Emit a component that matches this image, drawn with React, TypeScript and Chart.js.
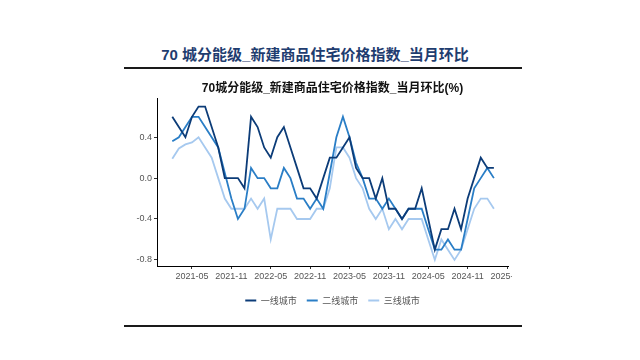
import { useEffect, useRef } from 'react';
import { Chart, registerables } from 'chart.js';

Chart.register(...registerables);

const months = [
  '2021-02', '2021-03', '2021-04', '2021-05', '2021-06', '2021-07', '2021-08', '2021-09', '2021-10', '2021-11', '2021-12',
  '2022-01', '2022-02', '2022-03', '2022-04', '2022-05', '2022-06', '2022-07', '2022-08', '2022-09', '2022-10', '2022-11', '2022-12',
  '2023-01', '2023-02', '2023-03', '2023-04', '2023-05', '2023-06', '2023-07', '2023-08', '2023-09', '2023-10', '2023-11', '2023-12',
  '2024-01', '2024-02', '2024-03', '2024-04', '2024-05', '2024-06', '2024-07', '2024-08', '2024-09', '2024-10', '2024-11', '2024-12',
  '2025-01', '2025-02', '2025-03',
];

const tier1 = [
  0.6, 0.5, 0.4, 0.6, 0.7, 0.7, 0.5, 0.3, 0.0, 0.0,
  0.0, -0.1, 0.6, 0.5, 0.3, 0.2, 0.4, 0.5, 0.3, 0.1,
  -0.1, -0.1, -0.2, 0.0, 0.2, 0.2, 0.3, 0.4, 0.1, 0.0,
  0.0, -0.2, 0.0, -0.3, -0.3, -0.4, -0.3, -0.3, -0.1, -0.4,
  -0.7, -0.5, -0.5, -0.3, -0.5, -0.2, 0.0, 0.2, 0.1, 0.1,
];

const tier2 = [
  0.36, 0.4, 0.5, 0.6, 0.6, 0.5, 0.4, 0.3, 0.05, -0.2,
  -0.4, -0.3, 0.1, 0.0, 0.0, -0.1, -0.1, 0.1, 0.0, -0.2,
  -0.2, -0.3, -0.2, -0.3, 0.05, 0.4, 0.6, 0.4, 0.15, 0.0,
  -0.2, -0.2, -0.3, -0.2, -0.3, -0.4, -0.3, -0.3, -0.3, -0.5,
  -0.7, -0.7, -0.6, -0.7, -0.7, -0.4, -0.1, 0.0, 0.1, 0.0,
];

const tier3 = [
  0.19, 0.29, 0.33, 0.35, 0.4, 0.3, 0.2, 0.0, -0.2, -0.3,
  -0.3, -0.3, -0.2, -0.3, -0.2, -0.6, -0.3, -0.3, -0.3, -0.4,
  -0.4, -0.4, -0.3, -0.3, -0.1, 0.3, 0.3, 0.2, 0.0, -0.1,
  -0.3, -0.4, -0.3, -0.5, -0.4, -0.5, -0.4, -0.4, -0.4, -0.6,
  -0.8, -0.6, -0.7, -0.8, -0.7, -0.5, -0.3, -0.2, -0.2, -0.3,
];

const seriesNames = ['一线城市', '二线城市', '三线城市'];
const seriesColors = ['#0c3c78', '#2a7ec6', '#a6c9ef'];
const xTickLabels = ['2021-05', '2021-11', '2022-05', '2022-11', '2023-05', '2023-11', '2024-05', '2024-11', '2025-05'];
const yTickValues = [-0.8, -0.4, 0.0, 0.4];

const headerTitle = '70 城分能级_新建商品住宅价格指数_当月环比';
const chartTitle = '70城分能级_新建商品住宅价格指数_当月环比(%)';

const toIdx = (s: string) => {
  const [y, m] = s.split('-').map(Number);
  return (y - 2021) * 12 + (m - 1);
};

const FONT = "'Liberation Sans', 'Noto Sans CJK SC', sans-serif";

export default function App() {
  const ref = useRef<HTMLCanvasElement | null>(null);

  useEffect(() => {
    if (!ref.current) return;
    const xTickValues = xTickLabels.map(toIdx);
    const series = [tier1, tier2, tier3];
    const chart = new Chart(ref.current, {
      type: 'line',
      data: {
        datasets: series.map((vals, si) => ({
          label: seriesNames[si],
          data: months.map((m, i) => ({ x: toIdx(m), y: vals[i] })),
          borderColor: seriesColors[si],
          backgroundColor: seriesColors[si],
          borderWidth: 1.8,
          pointRadius: 0,
          tension: 0,
          fill: false,
        })),
      },
      options: {
        responsive: false,
        maintainAspectRatio: false,
        animation: false,
        devicePixelRatio: 1,
        layout: { padding: { top: 81, left: 127, right: 4, bottom: 45 } },
        plugins: {
          tooltip: { enabled: false },
          title: {
            display: true,
            text: chartTitle,
            fullSize: false,
            color: '#111',
            font: { size: 12, weight: 'bold', family: FONT },
            padding: { top: 0, bottom: 3 },
          },
          legend: {
            position: 'bottom',
            fullSize: false,
            labels: {
              boxWidth: 11,
              boxHeight: 2,
              padding: 10,
              color: '#555',
              font: { size: 9, family: "'Noto Sans CJK SC', sans-serif" },
              generateLabels: (c: any) =>
                c.data.datasets.map((d: any, i: number) => ({
                  text: d.label,
                  fillStyle: d.borderColor,
                  strokeStyle: d.borderColor,
                  lineWidth: 0,
                  hidden: false,
                  datasetIndex: i,
                  fontColor: '#555',
                })),
            },
          },
        },
        scales: {
          x: {
            type: 'linear',
            min: -1.33,
            max: 52.15,
            afterBuildTicks: (axis: any) => {
              axis.ticks = xTickValues.map((v) => ({ value: v }));
            },
            afterFit: (s: any) => {
              s.paddingLeft = 0;
              s.paddingRight = 0;
              s.height = 20;
            },
            grid: { display: true, drawOnChartArea: false, drawTicks: true, tickLength: 3, color: '#333' },
            border: { display: true, color: '#000', width: 1 },
            ticks: {
              autoSkip: false,
              maxRotation: 0,
              padding: 2,
              color: '#555',
              font: { size: 9, family: FONT },
              callback: (v: any) => {
                const i = xTickValues.indexOf(Number(v));
                return i >= 0 ? xTickLabels[i] : '';
              },
            },
          },
          y: {
            type: 'linear',
            min: -0.86,
            max: 0.78,
            afterBuildTicks: (axis: any) => {
              axis.ticks = yTickValues.map((v) => ({ value: v }));
            },
            afterFit: (s: any) => {
              s.paddingTop = 0;
              s.paddingBottom = 0;
              s.width = 30;
            },
            grid: { display: true, drawOnChartArea: false, drawTicks: true, tickLength: 3, color: '#333' },
            border: { display: true, color: '#000', width: 1 },
            ticks: {
              padding: 2,
              color: '#555',
              font: { size: 9, family: FONT },
              callback: (v: any) => Number(v).toFixed(1),
            },
          },
        },
      },
    } as any);
    return () => chart.destroy();
  }, []);

  return (
    <div style={{ position: 'fixed', left: 0, top: 0, width: 640, height: 360, background: '#fff', overflow: 'hidden' }}>
      <div
        style={{
          position: 'absolute',
          left: 0,
          top: 45,
          width: 630,
          height: 20,
          lineHeight: '20px',
          textAlign: 'center',
          fontFamily: FONT,
          fontWeight: 'bold',
          fontSize: 15,
          color: '#1f3d70',
          whiteSpace: 'nowrap',
        }}
      >
        {headerTitle}
      </div>
      <div style={{ position: 'absolute', left: 124, top: 67, width: 398, height: 2, background: '#1a1a1a' }} />
      <canvas ref={ref} width={512} height={360} style={{ position: 'absolute', left: 0, top: 0, width: 512, height: 360 }} />
      <div style={{ position: 'absolute', left: 124, top: 325, width: 398, height: 2, background: '#1a1a1a' }} />
    </div>
  );
}
